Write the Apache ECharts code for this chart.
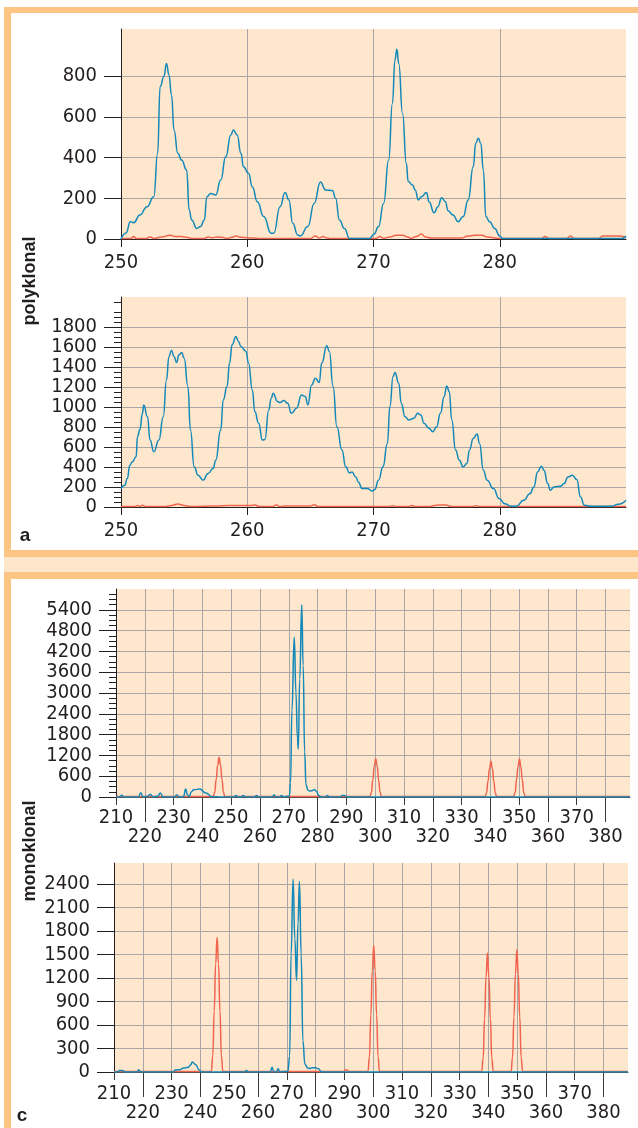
<!DOCTYPE html>
<html><head><meta charset="utf-8">
<script src="https://cdn.jsdelivr.net/npm/echarts@6/dist/echarts.min.js"></script>
<style>html,body{margin:0;padding:0;background:#fff}#c{width:638px;height:1128px}</style>
</head><body><div id="c"></div><script>
// ---------- DATA ----------
const polyXTicks = [250, 260, 270, 280];
const polyTopYTicks = [0, 200, 400, 600, 800];
const polyBotYTicks = [0, 200, 400, 600, 800, 1000, 1200, 1400, 1600, 1800];
const monoTopYTicks = [0, 600, 1200, 1800, 2400, 3000, 3600, 4200, 4800, 5400];
const monoBotYTicks = [0, 300, 600, 900, 1200, 1500, 1800, 2100, 2400];
const monoXOdd = [210, 230, 250, 270, 290, 310, 330, 350, 370];
const monoXEven = [220, 240, 260, 280, 300, 320, 340, 360, 380];

const polyTopBlue = [[250,0],[250.4,30],[250.74,85],[251.0,80],[251.5,118],[252.06,159],[252.6,208],[252.9,421],[253.1,749],[253.4,798],[253.6,863],[253.8,806],[254.0,708],[254.2,536],[254.5,421],[254.8,388],[255.2,339],[255.4,143],[255.6,93],[256.0,52],[256.3,61],[256.6,93],[256.8,208],[257.1,224],[257.5,216],[257.9,290],[258.3,405],[258.7,511],[258.9,536],[259.2,511],[259.5,421],[259.7,355],[260.1,323],[260.4,257],[260.8,183],[261.3,110],[261.9,28],[262.1,28],[262.6,159],[263.0,228],[263.3,192],[263.6,77],[264.0,20],[264.2,15],[264.8,61],[265.3,175],[265.8,280],[266.2,241],[266.75,238],[267.0,200],[267.3,93],[267.7,52],[268.1,3],[269.7,3],[270.05,25],[270.4,61],[270.8,175],[271.2,388],[271.5,667],[271.7,880],[271.85,932],[272.0,863],[272.3,617],[272.6,372],[272.75,282],[273.1,265],[273.3,241],[273.55,192],[273.8,208],[274.2,228],[274.4,183],[274.8,129],[275.1,159],[275.4,203],[275.7,183],[275.9,139],[276.3,118],[276.7,85],[277.1,110],[277.5,192],[277.9,355],[278.1,470],[278.3,495],[278.5,470],[278.7,339],[278.9,110],[279.2,85],[279.6,52],[280.0,15],[280.2,3],[289.7,3],[290,15]];
const polyTopRed = [[250,3],[250.8,3],[251.0,12],[251.2,3],[252.0,3],[252.3,10],[252.6,3],[253.2,10],[253.9,18],[254.3,12],[254.8,12],[255.2,8],[255.6,3],[256.6,3],[256.9,10],[257.2,6],[257.6,10],[258.0,8],[258.4,3],[258.8,8],[259.1,15],[259.5,8],[260.5,5],[261.0,3],[265.0,3],[265.4,15],[265.7,5],[266.0,12],[266.3,5],[266.6,3],[270.2,3],[270.5,12],[270.8,3],[271.3,10],[271.8,18],[272.3,18],[272.7,10],[273.0,3],[273.4,12],[273.8,25],[274.1,10],[274.6,5],[277.0,5],[277.5,15],[278.0,18],[278.6,18],[279.0,10],[280.0,3],[283.3,3],[283.6,12],[283.9,3],[285.3,3],[285.6,15],[285.9,3],[287.8,3],[288.2,15],[289.5,15],[290,5]];

const polyBotBlue = [[250,184],[250.3,217],[250.5,284],[250.7,418],[250.9,452],[251.2,502],[251.3,703],[251.5,776],[251.7,937],[251.8,1020],[252.1,903],[252.3,669],[252.6,552],[253.0,669],[253.35,903],[253.6,1271],[253.8,1506],[254.0,1566],[254.2,1506],[254.4,1445],[254.6,1522],[254.8,1546],[255.0,1489],[255.3,1205],[255.5,770],[255.8,402],[256.1,318],[256.5,268],[256.9,335],[257.3,385],[257.5,468],[257.9,770],[258.1,1071],[258.4,1205],[258.6,1439],[258.8,1623],[259.1,1706],[259.3,1656],[259.5,1606],[259.9,1556],[260.1,1439],[260.4,1171],[260.6,954],[260.9,837],[261.2,669],[261.4,676],[261.7,970],[261.9,1087],[262.05,1138],[262.4,1054],[262.6,1044],[262.9,1064],[263.2,1037],[263.5,937],[263.9,987],[264.3,1121],[264.6,1104],[264.8,1021],[265.1,1221],[265.4,1288],[265.7,1245],[265.9,1439],[266.3,1613],[266.5,1556],[266.8,1205],[267.1,803],[267.5,569],[267.8,402],[268.1,341],[268.3,351],[268.6,301],[268.8,251],[269.1,184],[269.5,184],[269.9,161],[270.1,174],[270.4,268],[270.75,402],[271.1,636],[271.3,1004],[271.55,1305],[271.7,1345],[272.0,1238],[272.2,1037],[272.5,903],[272.8,870],[273.2,887],[273.5,937],[273.75,920],[274.0,837],[274.4,786],[274.7,753],[275.0,803],[275.3,937],[275.6,1104],[275.8,1211],[276.0,1154],[276.2,870],[276.5,569],[276.8,468],[277.1,402],[277.4,435],[277.6,569],[277.9,686],[278.2,729],[278.4,636],[278.7,368],[279.0,268],[279.5,184],[279.95,84],[280.4,33],[280.9,7],[281.3,7],[281.9,67],[282.4,134],[282.7,201],[283.0,351],[283.3,408],[283.5,368],[283.8,234],[284.0,167],[284.3,201],[284.8,207],[285.1,234],[285.4,301],[285.75,318],[286.1,274],[286.4,100],[286.7,17],[287.2,7],[288.8,7],[289.4,27],[290,67]];
const polyBotRed = [[250,5],[251.1,5],[251.3,15],[251.5,5],[251.7,18],[251.9,5],[253.5,5],[254.0,15],[254.5,30],[255.0,15],[255.5,5],[257.5,10],[258.5,15],[259.5,15],[260.3,15],[260.6,20],[261.0,5],[262.0,5],[262.3,20],[262.6,5],[263.0,10],[264.5,10],[265.0,10],[265.3,22],[265.6,5],[267.0,5],[271.2,5],[271.5,12],[271.8,5],[272.8,5],[273.0,15],[273.3,5],[274.5,5],[274.8,15],[275.2,20],[275.7,20],[276.2,5],[277.8,5],[278.1,12],[278.4,5],[279.5,5],[290,5]];

const monoTopBlue = [[210,0],[211.3,0],[212.0,50],[212.7,0],[217.8,0],[218.6,120],[219.4,0],[220.9,20],[221.9,70],[222.9,5],[224.5,20],[225.4,115],[226.3,0],[230.3,0],[231.1,60],[231.9,0],[233.4,0],[234.2,230],[234.8,60],[235.4,20],[236.2,150],[237.0,210],[239.1,230],[241.2,115],[243.3,10],[246.7,0],[251.0,0],[251.7,40],[252.4,0],[253.5,0],[254.2,40],[254.9,0],[258.1,0],[258.8,40],[259.5,0],[264.2,0],[264.9,60],[265.6,0],[266.8,0],[267.5,40],[268.2,0],[270.2,30],[270.6,400],[271.1,2500],[271.9,4613],[272.5,3000],[273.0,1700],[273.3,1384],[273.8,3400],[274.5,5545],[275.0,3800],[275.5,1300],[276.0,350],[276.6,200],[277.3,170],[278.0,180],[279.0,211],[279.7,150],[280.4,40],[281.2,0],[282.7,0],[283.4,40],[284.1,0],[287.9,0],[288.6,40],[289.3,40],[290.3,0],[388.5,0]];
const monoTopRed = [[210,15],[243.8,15],[244.3,140],[244.8,515],[245.3,915],[245.8,1144],[246.3,915],[246.8,515],[247.3,140],[247.8,15],[298.2,15],[298.7,135],[299.2,500],[299.7,885],[300.2,1105],[300.7,885],[301.2,500],[301.7,135],[302.2,15],[338.2,15],[338.7,125],[339.2,465],[339.7,820],[340.2,1028],[340.7,820],[341.2,465],[341.7,125],[342.2,15],[348.1,15],[348.6,130],[349.1,495],[349.6,875],[350.1,1095],[350.6,875],[351.1,495],[351.6,130],[352.1,15],[388.5,15]];

const monoBotBlue = [[210,0],[211.2,0],[212.0,20],[213.0,20],[213.8,0],[218.0,0],[218.6,30],[219.2,0],[230.5,0],[231.3,25],[233.0,30],[234.1,51],[235.8,60],[236.6,90],[237.2,128],[238.4,94],[239.5,30],[240.5,0],[255.4,0],[256.0,20],[256.6,0],[264.3,0],[264.9,60],[265.5,0],[266.4,0],[267.0,43],[267.6,0],[270.4,10],[271.0,200],[271.5,1500],[272.2,2464],[272.8,1700],[273.4,1170],[273.9,1900],[274.4,2434],[275.0,1500],[275.6,400],[276.3,100],[277.3,50],[278.0,45],[279.0,55],[280.0,55],[281.0,40],[282.0,5],[282.8,0],[388.5,0]];
const monoBotRed = [[210,5],[243.8,5],[244.3,205],[244.8,775],[245.3,1380],[245.8,1723],[246.3,1380],[246.8,775],[247.3,205],[247.8,5],[289.8,5],[290.3,25],[290.7,30],[291.2,20],[291.7,5],[298.2,5],[298.7,195],[299.2,730],[299.7,1295],[300.2,1617],[300.7,1295],[301.2,730],[301.7,195],[302.2,5],[337.7,5],[338.2,180],[338.7,685],[339.2,1215],[339.7,1519],[340.2,1215],[340.7,685],[341.2,180],[341.7,5],[347.9,5],[348.4,185],[348.9,705],[349.4,1250],[349.9,1562],[350.4,1250],[350.9,705],[351.4,185],[351.9,5],[388.5,5]];

// ---------- STYLE ----------
const FONT = '"Liberation Sans Narrow","Arial Narrow","DejaVu Sans Condensed",sans-serif';
const TXT = '#231f20';
const G = '#a9a7a6';
const T = 'rgba(0,0,0,0)';
const BG = '#fee7cc';
const ORANGE = '#fcc584';
const PEACH = '#fde6c9';
const BLUE = '#1389b9';
const RED = '#f0644f';

function rep(c, n) { return Array(n).fill(c); }

const grids = [
  {left: 121, top: 29, width: 505, height: 210},
  {left: 121, top: 297, width: 505, height: 210},
  {left: 116, top: 589, width: 514, height: 208},
  {left: 114, top: 863, width: 514, height: 209}
].map(g => Object.assign({show: true, backgroundColor: BG, borderWidth: 0, containLabel: false}, g));

const lbl = (vals, margin) => ({customValues: vals, margin: margin, fontSize: 20, color: TXT, fontFamily: FONT,
  formatter: v => String(v)});

function polyX(gi) {
  return {
    type: 'value', gridIndex: gi, min: 250, max: 290, interval: 10, position: 'bottom',
    axisLine: {show: true, onZero: false, lineStyle: {color: TXT, width: 1}},
    axisTick: {show: true, customValues: polyXTicks, length: 8, lineStyle: {color: TXT}},
    axisLabel: lbl(polyXTicks, 14),
    splitLine: {show: true, lineStyle: {color: [T, G, G, G, T], width: 1}}
  };
}
function monoX(gi, vals, tickLen, margin, colors, showLine) {
  return {
    type: 'value', gridIndex: gi, min: 210, max: 388.5, interval: 10, position: 'bottom',
    axisLine: {show: showLine, onZero: false, lineStyle: {color: '#4a4a4a', width: 1}},
    axisTick: {show: true, customValues: vals, length: tickLen, lineStyle: {color: '#3a3a3a'}},
    axisLabel: lbl(vals, margin),
    splitLine: {show: true, lineStyle: {color: colors, width: 1}}
  };
}
function yAx(gi, max, interval, vals, splitColors, minor) {
  return {
    type: 'value', gridIndex: gi, min: 0, max: max, interval: interval,
    axisLine: {show: true, lineStyle: {color: TXT, width: 1}},
    axisTick: {show: true, customValues: vals, length: 17, lineStyle: {color: TXT}},
    minorTick: minor ? {show: true, splitNumber: minor, length: 7, lineStyle: {color: TXT}} : {show: false},
    axisLabel: lbl(vals, 24),
    splitLine: {show: true, lineStyle: {color: splitColors, width: 1}},
    minorSplitLine: {show: false}
  };
}

const lineS = (data, xi, yi, color, z) => ({
  type: 'line', data: data, xAxisIndex: xi, yAxisIndex: yi, showSymbol: false, symbol: 'none',
  smooth: 0.5, smoothMonotone: 'x', clip: true, z: z,
  lineStyle: {color: color, width: 1.5}, silent: true
});

const option = {
  animation: false,
  backgroundColor: '#ffffff',
  grid: grids,
  xAxis: [
    polyX(0), polyX(1),
    monoX(2, monoXOdd, 8, 11, [T].concat(rep(G, 17), [T]), true),
    monoX(2, monoXEven, 25, 30, rep(G, 18).concat([T]), false),
    monoX(3, monoXOdd, 8, 12, [T].concat(rep(G, 17), [T]), true),
    monoX(3, monoXEven, 25, 31, rep(G, 18).concat([T]), false)
  ],
  yAxis: [
    yAx(0, 1032, 200, polyTopYTicks, rep(G, 5).concat([T, T]), 0),
    yAx(1, 2100, 200, polyBotYTicks, rep(G, 10).concat([T, T]), 4),
    yAx(2, 6000, 600, monoTopYTicks, rep(G, 10).concat([T]), 4),
    yAx(3, 2670, 300, monoBotYTicks, rep(G, 9).concat([T]), 0)
  ],
  series: [
    lineS(polyTopRed, 0, 0, RED, 2), lineS(polyTopBlue, 0, 0, BLUE, 3),
    lineS(polyBotRed, 1, 1, RED, 2), lineS(polyBotBlue, 1, 1, BLUE, 3),
    lineS(monoTopRed, 2, 2, RED, 2), lineS(monoTopBlue, 2, 2, BLUE, 3),
    lineS(monoBotRed, 4, 3, RED, 2), lineS(monoBotBlue, 4, 3, BLUE, 3)
  ],
  graphic: [
    {type: 'rect', shape: {x: 4, y: 7, width: 634, height: 6}, style: {fill: ORANGE}, silent: true},
    {type: 'rect', shape: {x: 4, y: 7, width: 7, height: 550}, style: {fill: ORANGE}, silent: true},
    {type: 'rect', shape: {x: 4, y: 550, width: 634, height: 7}, style: {fill: ORANGE}, silent: true},
    {type: 'rect', shape: {x: 4, y: 557, width: 634, height: 15}, style: {fill: PEACH}, silent: true},
    {type: 'rect', shape: {x: 4, y: 572, width: 634, height: 7}, style: {fill: ORANGE}, silent: true},
    {type: 'rect', shape: {x: 4, y: 572, width: 7, height: 556}, style: {fill: ORANGE}, silent: true},
    {type: 'text', x: 30, y: 281, rotation: Math.PI / 2,
      style: {text: 'polyklonal', fontSize: 18, fontWeight: 'bold', fontFamily: '"Liberation Sans",Arial,sans-serif', fill: TXT, align: 'center', verticalAlign: 'middle'}},
    {type: 'text', x: 30, y: 851, rotation: Math.PI / 2,
      style: {text: 'monoklonal', fontSize: 18, fontWeight: 'bold', fontFamily: '"Liberation Sans",Arial,sans-serif', fill: TXT, align: 'center', verticalAlign: 'middle'}},
    {type: 'text', x: 25, y: 536,
      style: {text: 'a', fontSize: 19, fontWeight: 'bold', fontFamily: '"Liberation Sans",Arial,sans-serif', fill: TXT, align: 'center', verticalAlign: 'middle'}},
    {type: 'text', x: 22, y: 1116,
      style: {text: 'c', fontSize: 19, fontWeight: 'bold', fontFamily: '"Liberation Sans",Arial,sans-serif', fill: TXT, align: 'center', verticalAlign: 'middle'}}
  ]
};

const chart = echarts.init(document.getElementById('c'), null, {renderer: 'canvas', width: 638, height: 1128});
chart.setOption(option);
</script></body></html>
